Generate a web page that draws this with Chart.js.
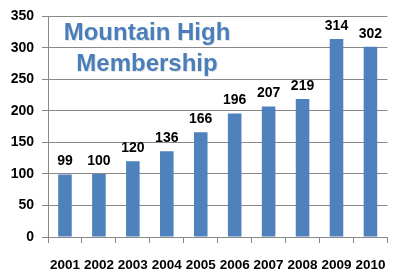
<!DOCTYPE html>
<html>
<head>
<meta charset="utf-8">
<script src="https://cdn.jsdelivr.net/npm/chart.js@4"></script>
<style>
  html, body { margin: 0; padding: 0; background: #fff; }
  #wrap { width: 400px; height: 278px; }
</style>
</head>
<body>
<div id="wrap"><canvas id="chart"></canvas></div>
<script>
// data
var years = ["2001", "2002", "2003", "2004", "2005", "2006", "2007", "2008", "2009", "2010"];
var members = [99, 100, 120, 136, 166, 196, 207, 219, 314, 302];
var titleLines = ["Mountain High", "Membership"];

var ctx = document.getElementById("chart");

var myChart = new Chart(ctx, {
  type: "bar",
  data: {
    labels: years,
    datasets: [
      {
        label: "Membership",
        data: members,
        backgroundColor: "#4f81bd",
        barPercentage: 0.4,
        categoryPercentage: 1,
      },
    ],
  },
  options: {
    responsive: true,
    maintainAspectRatio: false,
    animation: false,
    events: [],
    layout: { padding: { top: 15, right: 11, bottom: 0, left: 0 } },
    plugins: {
      legend: { display: false },
      tooltip: { enabled: false },
    },
    scales: {
      x: {
        afterFit: function (scale) {
          scale.height = 41;
        },
        grid: {
          drawOnChartArea: false,
          tickLength: 6,
          color: "#888",
        },
        border: { color: "#888" },
        ticks: {
          color: "#000",
          padding: 14,
          maxRotation: 0,
          autoSkip: false,
          font: { family: "Liberation Sans", size: 13.5, weight: "bold" },
        },
      },
      y: {
        min: 0,
        max: 350,
        afterFit: function (scale) {
          scale.width = 48;
        },
        grid: {
          color: "#888",
          tickLength: 6,
        },
        border: { color: "#888" },
        ticks: {
          stepSize: 50,
          color: "#000",
          padding: 8,
          font: { family: "Liberation Sans", size: 14, weight: "bold" },
        },
      },
    },
  },
  plugins: [
    {
      id: "valueLabels",
      afterDatasetsDraw: function (chart) {
        const c = chart.ctx;
        const meta = chart.getDatasetMeta(0);
        c.save();
        c.fillStyle = "#000";
        c.font = "bold 14px 'Liberation Sans'";
        c.textAlign = "center";
        c.textBaseline = "middle";
        meta.data.forEach(function (bar, i) {
          c.fillText(String(members[i]), bar.x, bar.y - 13);
        });
        c.restore();
      },
    },
    {
      id: "innerTitle",
      afterDraw: function (chart) {
        const c = chart.ctx;
        const area = chart.chartArea;
        c.save();
        c.font = "bold 24px 'Liberation Sans'";
        c.textAlign = "center";
        c.textBaseline = "middle";
        const cx = area.left + 99;
        titleLines.forEach(function (line, i) {
          const y = area.top + 17 + i * 31;
          c.fillStyle = "rgba(0,0,0,0.12)";
          c.fillText(line, cx + 1, y + 1);
          c.fillStyle = "#4a7ebb";
          c.fillText(line, cx, y);
        });
        c.restore();
      },
    },
  ],
});
</script>
</body>
</html>
